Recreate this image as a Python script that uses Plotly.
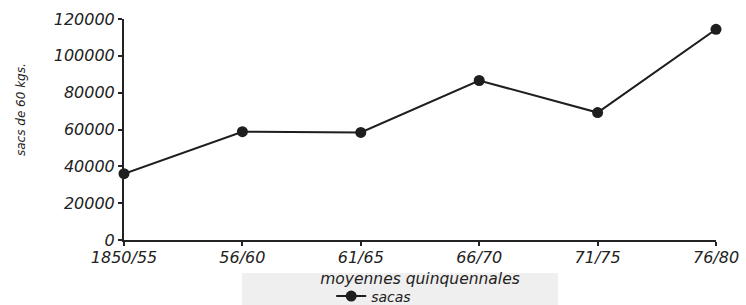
import plotly.graph_objects as go

periods = ["1850/55", "56/60", "61/65", "66/70", "71/75", "76/80"]
sacas = [36000, 58800, 58400, 86600, 69200, 114400]
y_ticks = [0, 20000, 40000, 60000, 80000, 100000, 120000]
y_labels = ["0", "20000", "40000", "60000", "80000", "100000", "120000"]

font = dict(family="DejaVu Sans", size=16, color="#222", style="italic")

fig = go.Figure()
fig.add_trace(go.Scatter(
    x=list(range(len(periods))), y=sacas, name="sacas",
    mode="lines+markers",
    line=dict(color="#1e1e1e", width=2),
    marker=dict(color="#1e1e1e", size=11),
    cliponaxis=False,
))

fig.update_layout(
    width=746, height=305,
    margin=dict(l=124, r=30, t=19, b=65, autoexpand=False),
    paper_bgcolor="white", plot_bgcolor="white",
    font=font,
    showlegend=True,
    legend=dict(orientation="h", x=0.35, xanchor="left", y=-72.5 / 221, yanchor="bottom",
                bgcolor="rgba(0,0,0,0)", font=dict(family="DejaVu Sans", size=14, style="italic", color="#222"),
                itemwidth=30),
    xaxis=dict(
        tickmode="array", tickvals=list(range(len(periods))), ticktext=periods,
        range=[0, len(periods) - 1], automargin=False,
        showgrid=False, zeroline=False,
        showline=True, linecolor="#222", linewidth=2,
        ticks="outside", ticklen=4, tickcolor="#222", tickwidth=1.5,
        ticklabelstandoff=-2,
        tickfont=font,
        title=dict(text="moyennes quinquennales", standoff=7,
                   font=dict(family="DejaVu Sans", size=15.5, style="italic", color="#222")),
    ),
    yaxis=dict(
        tickmode="array", tickvals=y_ticks, ticktext=y_labels,
        range=[0, 120000], automargin=False,
        showgrid=False, zeroline=False,
        showline=True, linecolor="#222", linewidth=2,
        ticks="outside", ticklen=4, tickcolor="#222", tickwidth=1.5,
        tickfont=font,
    ),
    shapes=[dict(type="rect", xref="paper", yref="paper",
                 x0=(242 - 124) / 592, x1=(558 - 124) / 592,
                 y0=-(305 - 240) / 221, y1=-(273 - 240) / 221,
                 fillcolor="#efefef", line=dict(width=0), layer="below")],
    annotations=[dict(text="sacs de 60 kgs.", textangle=-90,
                      xref="paper", yref="paper",
                      x=(21 - 124) / 592, y=(240 - 110) / 221,
                      showarrow=False, xanchor="center", yanchor="middle",
                      font=dict(family="DejaVu Sans", size=12, style="italic", color="#222222"))],
)

fig.write_html("out.html", config={"displayModeBar": False},
               post_script="document.body.style.margin='0';document.body.style.padding='0';")
